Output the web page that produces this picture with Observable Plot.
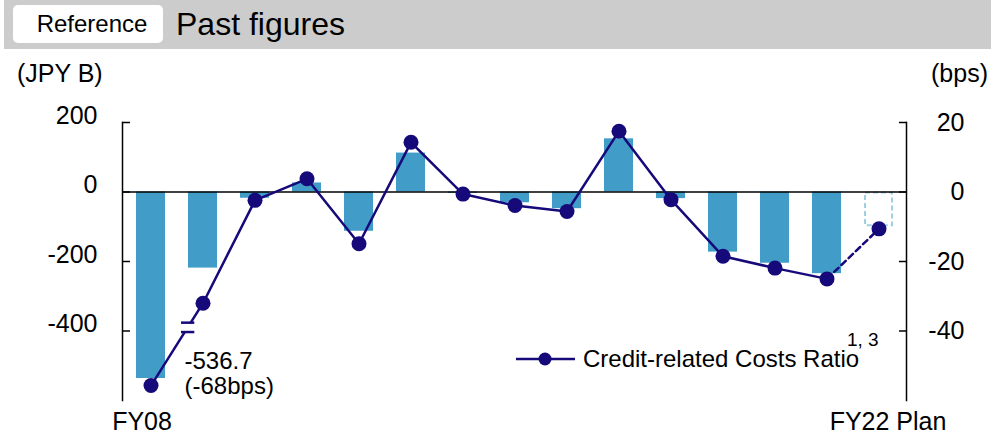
<!DOCTYPE html>
<html><head><meta charset="utf-8">
<script src="https://cdn.jsdelivr.net/npm/d3@7"></script>
<script src="https://cdn.jsdelivr.net/npm/@observablehq/plot@0.6"></script>
<style>
body{margin:0;width:991px;height:438px;overflow:hidden;background:#fff;font-family:"Liberation Sans",Arial,sans-serif;}
#wrap{position:relative;width:991px;height:438px;}
#chart,#overlay{position:absolute;left:0;top:0;}
</style></head>
<body><div id="wrap"><div id="chart"></div><svg id="overlay" width="991" height="438"></svg></div>
<script>
// ---- data ----
const years = ["FY08","FY09","FY10","FY11","FY12","FY13","FY14","FY15","FY16","FY17","FY18","FY19","FY20","FY21","FY22 Plan"];
const costs = [-536.7,-219,-18,26,-113,112,-4,-31,-48,153,-19,-173,-205,-235,-100]; // JPY B
const ratioBps = [-68,-32,-2.4,3.8,-14.9,14.3,-0.6,-3.9,-5.6,17.5,-2.2,-18.5,-21.9,-25,-10.6]; // bps
const ratioDrawnFY08 = -55.7; // FY08 point drawn on a broken axis
const leftTicks = [200,0,-200,-400];
const rightTicks = [20,0,-20,-40];
const firstLabel = "FY08";
const lastLabel = "FY22 Plan";
const annotation = "-536.7\n(-68bps)";
const breakBps = [-37.6,-40.3];
const breakGapBps = [-39];
const legendLabel = "Credit-related Costs Ratio";
const footnote = "1, 3";

const navy = "#16097a";
const barBlue = "#419dc8";
const rows = years.map((y,i)=>({year:y, cost:costs[i], ratio:ratioBps[i], drawn: i===0 ? ratioDrawnFY08 : ratioBps[i]}));
const actual = rows.slice(0,-1);
const plan = rows.slice(-1);
const ry = d => d.drawn*10; // bps mapped onto the JPY B scale (20 bps <-> 200)

const chart = Plot.plot({
  width:991, height:438,
  marginLeft:122, marginRight:85, marginTop:122, marginBottom:38,
  style:{fontFamily:'"Liberation Sans", Arial, sans-serif', fontSize:"24px", color:"#000", background:"transparent", overflow:"visible"},
  x:{type:"band", domain:years, paddingInner:0.45, paddingOuter:0.225, axis:null},
  y:{domain:[-600,200], axis:null, label:null},
  marks:[
    Plot.barY(actual,{x:"year", y:"cost", fill:barBlue}),
    Plot.barY(plan,{x:"year", y:"cost", fill:"none", stroke:"#9fcfe6", strokeWidth:2, strokeDasharray:"5,3", inset:1}),
    Plot.ruleY([0],{stroke:"#000", strokeWidth:1.5}),
    Plot.frame({anchor:"left", stroke:"#000", strokeWidth:1.5}),
    Plot.frame({anchor:"right", stroke:"#000", strokeWidth:1.5}),
    Plot.axisY({anchor:"left", ticks:leftTicks, tickSize:8, dx:8, tickFormat:()=>"", label:null, strokeWidth:1.5}),
    Plot.axisY({anchor:"left", ticks:leftTicks, tickSize:0, tickPadding:25, dy:-7, tickFormat:d=>String(d), label:null, fontSize:25}),
    Plot.axisY({anchor:"right", ticks:rightTicks.map(v=>v*10), tickSize:8, dx:-8, tickFormat:()=>"", label:null, strokeWidth:1.5}),
    Plot.axisY({anchor:"right", ticks:rightTicks.map(v=>v*10), tickSize:0, tickPadding:58, textAnchor:"end", tickFormat:d=>String(d/10), label:null, fontSize:25}),
    Plot.line(actual,{x:"year", y:ry, stroke:navy, strokeWidth:2.5}),
    Plot.line(rows.slice(-2),{x:"year", y:ry, stroke:navy, strokeWidth:2.5, strokeDasharray:"6,4"}),
    Plot.tickY(breakGapBps,{x:()=>"FY09", y:d=>d*10, stroke:"#fff", strokeWidth:8, insetRight:15.7, dx:-7}),
    Plot.tickY(breakBps,{x:()=>"FY09", y:d=>d*10, stroke:navy, strokeWidth:2.5, insetRight:15.7, dx:-7}),
    Plot.dot(rows,{x:"year", y:ry, r:7.5, fill:navy}),
    Plot.text([annotation],{x:()=>"FY08", y:()=>costs[0], text:d=>d, textAnchor:"start", lineAnchor:"bottom", lineHeight:1.05, dx:33.5, dy:15.4, fontSize:24}),
    Plot.text([firstLabel],{x:d=>d, frameAnchor:"bottom", text:d=>d, lineAnchor:"top", dy:12, dx:-9, fontSize:25}),
    Plot.text([lastLabel],{x:d=>d, frameAnchor:"bottom", text:d=>d, lineAnchor:"top", dy:12, dx:9, fontSize:25})
  ]
});
document.getElementById("chart").appendChild(chart);

// ---- header, unit labels, legend ----
const ov = d3.select("#overlay").style("font-family",'"Liberation Sans", Arial, sans-serif');
ov.append("rect").attr("x",4).attr("y",0).attr("width",987).attr("height",49).attr("fill","#cccccc");
ov.append("rect").attr("x",13).attr("y",5).attr("width",150).attr("height",38).attr("rx",5).attr("fill","#fff");
ov.append("text").attr("x",92).attr("y",32).attr("text-anchor","middle").attr("font-size",24).text("Reference");
ov.append("text").attr("x",176).attr("y",35).attr("font-size",32).text("Past figures");
ov.append("text").attr("x",17).attr("y",82).attr("font-size",25).text("(JPY B)");
ov.append("text").attr("x",931).attr("y",82).attr("font-size",25).text("(bps)");
ov.append("line").attr("x1",516).attr("x2",575).attr("y1",359).attr("y2",359).attr("stroke",navy).attr("stroke-width",2.5);
ov.append("circle").attr("cx",545).attr("cy",359).attr("r",6.5).attr("fill",navy);
ov.append("text").attr("x",583).attr("y",367).attr("font-size",24).text(legendLabel);
ov.append("text").attr("x",847).attr("y",346).attr("font-size",19).text(footnote);
</script></body></html>
